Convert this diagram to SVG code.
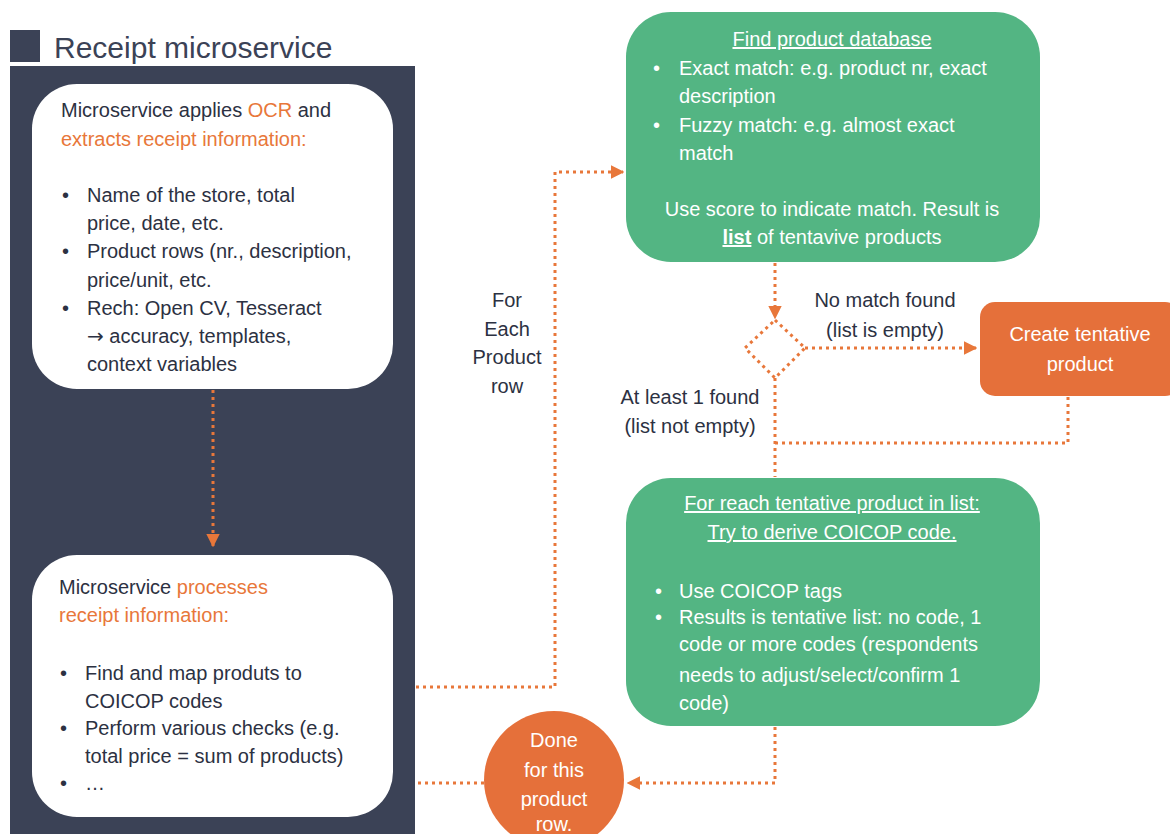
<svg xmlns="http://www.w3.org/2000/svg" width="1170" height="834" viewBox="0 0 1170 834">
  <style>
    text { font-family: "Liberation Sans", Arial, sans-serif; font-size: 20px; }
    .dark { fill: #2c3142; }
    .acc { fill: #e8773a; }
    .wt { fill: #ffffff; }
    .mid { text-anchor: middle; }
    .ul { text-decoration: underline; }
    .panel { fill: #3b4256; }
    .card { fill: #ffffff; }
    .green { fill: #53b583; }
    .orange { fill: #e5703a; }
    .flow { fill: none; stroke: #e8773a; stroke-width: 3; stroke-dasharray: 3 4; }
  </style>
  <defs>
    <marker id="arr" viewBox="0 0 10 10" refX="9" refY="5" markerWidth="4.5" markerHeight="4.5" orient="auto" markerUnits="strokeWidth">
      <path d="M0,0 L10,5 L0,10 z" fill="#e8773a"/>
    </marker>
  </defs>

  <rect width="1170" height="834" fill="#ffffff"/>

  <!-- header -->
  <g id="header">
    <rect x="10" y="30" width="30" height="32" class="panel"/>
    <text x="54" y="58" style="font-size:30px" fill="#3b4256">Receipt microservice</text>
  </g>

  <!-- service panel -->
  <rect id="service-panel" x="10" y="66" width="405" height="768" class="panel"/>

  <!-- connectors -->
  <g id="connectors">
    <path class="flow" d="M213,390 V546" marker-end="url(#arr)"/>
    <path class="flow" d="M416,687 H555 V172 H623" marker-end="url(#arr)"/>
    <path class="flow" d="M775,263 V318" marker-end="url(#arr)"/>
    <path class="flow" d="M805,348 H976" marker-end="url(#arr)"/>
    <path class="flow" d="M1068,397 V443 H775"/>
    <path class="flow" d="M775,378 V477"/>
    <path class="flow" d="M775,727 V783 H628" marker-end="url(#arr)"/>
    <path class="flow" d="M484,783 H416"/>
  </g>

  <!-- OCR step -->
  <g id="ocr">
    <rect x="32" y="84" width="361" height="305" rx="45" class="card"/>
    <text x="61" y="117" class="dark">Microservice applies <tspan class="acc">OCR</tspan> and</text>
    <text x="61" y="146" class="acc">extracts receipt information:</text>
    <text x="62" y="202" class="dark">•</text>
    <text x="87" y="202" class="dark">Name of the store, total</text>
    <text x="87" y="230" class="dark">price, date, etc.</text>
    <text x="62" y="258" class="dark">•</text>
    <text x="87" y="258" class="dark">Product rows (nr., description,</text>
    <text x="87" y="287" class="dark">price/unit, etc.</text>
    <text x="62" y="315" class="dark">•</text>
    <text x="87" y="315" class="dark">Rech: Open CV, Tesseract</text>
    <text x="87" y="343" class="dark"><tspan font-family="DejaVu Sans, sans-serif" font-size="20">→</tspan> accuracy, templates,</text>
    <text x="87" y="371" class="dark">context variables</text>
  </g>

  <!-- processing step -->
  <g id="process">
    <rect x="32" y="555" width="361" height="262" rx="45" class="card"/>
    <text x="59" y="594" class="dark">Microservice <tspan class="acc">processes</tspan></text>
    <text x="59" y="622" class="acc">receipt information:</text>
    <text x="60" y="680" class="dark">•</text>
    <text x="85" y="680" class="dark">Find and map produts to</text>
    <text x="85" y="708" class="dark">COICOP codes</text>
    <text x="60" y="735" class="dark">•</text>
    <text x="85" y="735" class="dark">Perform various checks (e.g.</text>
    <text x="85" y="763" class="dark">total price = sum of products)</text>
    <text x="60" y="790" class="dark">•</text>
    <text x="85" y="790" class="dark">…</text>
  </g>

  <!-- loop label -->
  <g id="loop-label">
    <text x="507" y="307" class="dark mid">For</text>
    <text x="507" y="336" class="dark mid">Each</text>
    <text x="507" y="364" class="dark mid">Product</text>
    <text x="507" y="393" class="dark mid">row</text>
  </g>

  <!-- product database lookup -->
  <g id="find-product">
    <rect x="626" y="12" width="414" height="250" rx="45" class="green"/>
    <text x="832" y="46" class="wt mid ul">Find product database</text>
    <text x="653" y="75" class="wt">•</text>
    <text x="679" y="75" class="wt">Exact match: e.g. product nr, exact</text>
    <text x="679" y="103" class="wt">description</text>
    <text x="653" y="132" class="wt">•</text>
    <text x="679" y="132" class="wt">Fuzzy match: e.g. almost exact</text>
    <text x="679" y="160" class="wt">match</text>
    <text x="832" y="216" class="wt mid">Use score to indicate match. Result is</text>
    <text x="832" y="244" class="wt mid"><tspan class="ul" font-weight="bold">list</tspan> of tentavive products</text>
  </g>

  <!-- decision -->
  <g id="decision">
    <path class="flow" d="M775,320 L805,348 L775,378 L745,348 Z"/>
    <text x="885" y="307" class="dark mid">No match found</text>
    <text x="885" y="337" class="dark mid">(list is empty)</text>
    <text x="690" y="404" class="dark mid">At least 1 found</text>
    <text x="690" y="433" class="dark mid">(list not empty)</text>
  </g>

  <!-- create tentative product -->
  <g id="create-product">
    <rect x="980" y="302" width="200" height="94" rx="15" class="orange"/>
    <text x="1080" y="341" class="wt mid">Create tentative</text>
    <text x="1080" y="371" class="wt mid">product</text>
  </g>

  <!-- COICOP derivation -->
  <g id="derive-coicop">
    <rect x="626" y="478" width="414" height="248" rx="45" class="green"/>
    <text x="832" y="510" class="wt mid ul">For reach tentative product in list:</text>
    <text x="832" y="539" class="wt mid ul">Try to derive COICOP code.</text>
    <text x="655" y="598" class="wt">•</text>
    <text x="679" y="598" class="wt">Use COICOP tags</text>
    <text x="655" y="624" class="wt">•</text>
    <text x="679" y="624" class="wt">Results is tentative list: no code, 1</text>
    <text x="679" y="651" class="wt">code or more codes (respondents</text>
    <text x="679" y="682" class="wt">needs to adjust/select/confirm 1</text>
    <text x="679" y="710" class="wt">code)</text>
  </g>

  <!-- end of row -->
  <g id="done">
    <ellipse cx="554" cy="780" rx="70" ry="69" class="orange"/>
    <text x="554" y="747" class="wt mid">Done</text>
    <text x="554" y="777" class="wt mid">for this</text>
    <text x="554" y="806" class="wt mid">product</text>
    <text x="554" y="831" class="wt mid">row.</text>
  </g>
</svg>
